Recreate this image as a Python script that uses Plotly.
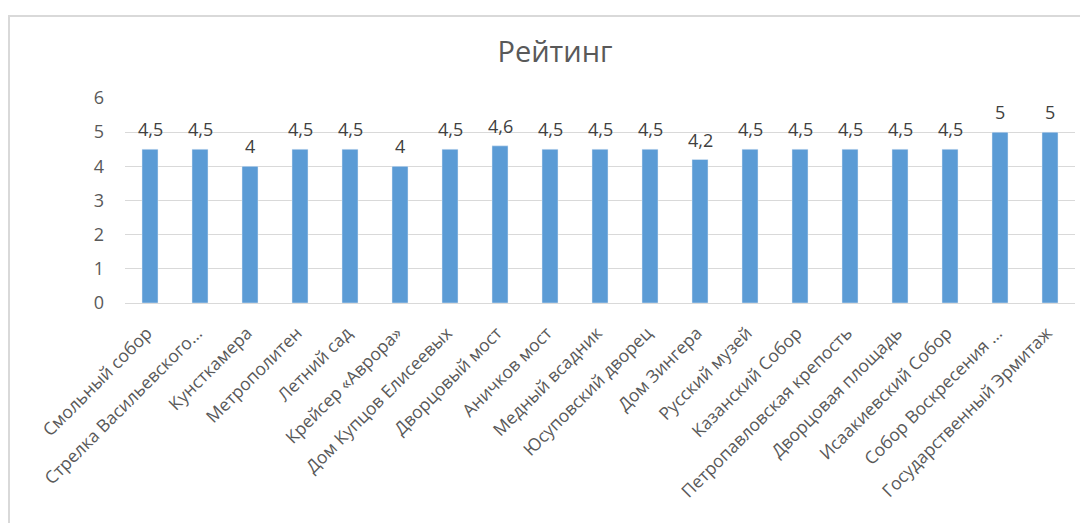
import plotly.graph_objects as go

categories = ["Смольный собор", "Стрелка Васильевского...", "Кунсткамера", "Метрополитен",
              "Летний сад", "Крейсер «Аврора»", "Дом Купцов Елисеевых", "Дворцовый мост",
              "Аничков мост", "Медный всадник", "Юсуповский дворец", "Дом Зингера",
              "Русский музей", "Казанский Собор", "Петропавловская крепость",
              "Дворцовая площадь", "Исаакиевский Собор", "Собор Воскресения ...",
              "Государственный Эрмитаж"]
values = [4.5, 4.5, 4, 4.5, 4.5, 4, 4.5, 4.6, 4.5, 4.5, 4.5, 4.2, 4.5, 4.5, 4.5, 4.5, 4.5, 5, 5]
labels = [str(v).replace(".", ",") for v in values]
yticks = [0, 1, 2, 3, 4, 5, 6]

font = "Open Sans, Liberation Sans, sans-serif"

W, H = 1080, 515
fig = go.Figure(go.Bar(
    x=categories, y=values,
    marker=dict(color="#5B9BD5"), width=0.32,
))

annotations = [dict(x=c, y=v, text=t, xref="x", yref="y", showarrow=False,
                    yanchor="bottom", yshift=6,
                    font=dict(size=18, color="#404040", family=font))
               for c, v, t in zip(categories, values, labels)]

fig.update_layout(
    width=W, height=H,
    margin=dict(l=117, r=13, t=90, b=220),
    paper_bgcolor="white", plot_bgcolor="white",
    title=dict(text="Рейтинг", x=547 / W, xref="container", xanchor="center",
               y=1 - 44 / H, yref="container", yanchor="middle",
               font=dict(size=29, color="#595959", family=font)),
    showlegend=False,
    annotations=annotations,
    xaxis=dict(tickangle=-45, tickfont=dict(size=17.5, color="#595959", family=font),
               showline=True, linecolor="#d9d9d9", linewidth=1, ticks="", automargin=False,
               ticklabelstandoff=12, ticklabelshift=-3),
    yaxis=dict(range=[0, 6], tickvals=yticks, showgrid=True, gridcolor="#d9d9d9",
               zeroline=False, tickfont=dict(size=18, color="#595959", family=font),
               ticklabelstandoff=20, automargin=False),
    shapes=[dict(type="rect", xref="paper", yref="paper",
                 x0=(1 - 117) / 950, x1=1.05, y0=-1.2, y1=(295 - 8) / 205,
                 line=dict(color="#d9d9d9", width=2), fillcolor="rgba(0,0,0,0)", layer="below")],
)

fig.write_html("out.html")
